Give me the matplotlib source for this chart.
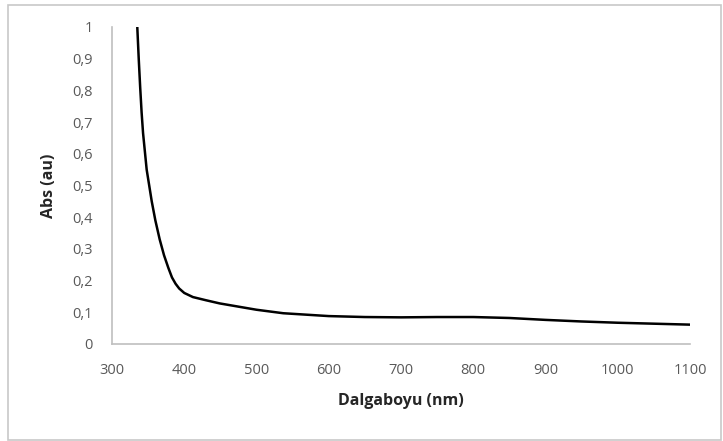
import matplotlib.pyplot as plt
from matplotlib.patches import Rectangle

# absorbance spectrum
wavelength = [335, 337, 339, 341, 343, 348, 355, 360, 366, 372, 378, 383, 388,
              393, 400, 412, 430, 449, 477, 500, 537, 600, 650, 700, 750, 800,
              850, 900, 950, 1000, 1050, 1100]
absorbance = [1.0, 0.90, 0.81, 0.73, 0.665, 0.55, 0.45, 0.39, 0.33, 0.28, 0.24,
              0.21, 0.19, 0.175, 0.161, 0.148, 0.138, 0.128, 0.117, 0.108,
              0.097, 0.088, 0.085, 0.084, 0.085, 0.085, 0.082, 0.076, 0.071,
              0.067, 0.064, 0.061]

x_ticks = [300, 400, 500, 600, 700, 800, 900, 1000, 1100]
y_ticks = [0, 0.1, 0.2, 0.3, 0.4, 0.5, 0.6, 0.7, 0.8, 0.9, 1.0]
y_labels = ["0", "0,1", "0,2", "0,3", "0,4", "0,5", "0,6", "0,7", "0,8", "0,9", "1"]

plt.rcParams['font.family'] = ['Open Sans', 'DejaVu Sans']

fig = plt.figure(figsize=(7.23, 4.41), dpi=100)
ax = fig.add_axes([0.1549, 0.22, 0.7995, 0.7188])

ax.plot(wavelength, absorbance, color='black', lw=1.8, solid_joinstyle='round',
        solid_capstyle='butt')

ax.set_xlim(300, 1100)
ax.set_ylim(0, 1)
ax.set_xticks(x_ticks)
ax.set_yticks(y_ticks)
ax.set_yticklabels(y_labels)
ax.tick_params(length=0, labelsize=10.5, labelcolor='#595959')
ax.tick_params(axis='x', pad=14)
ax.tick_params(axis='y', pad=14)

for side in ['top', 'right']:
    ax.spines[side].set_visible(False)
for side in ['left', 'bottom']:
    ax.spines[side].set_color('#bfbfbf')
    ax.spines[side].set_linewidth(1.2)

ax.set_xlabel('Dalgaboyu (nm)', fontsize=11.5, fontweight='bold', color='#262626', va='center')
ax.set_ylabel('Abs (au)', fontsize=11.5, fontweight='bold', color='#262626', va='center')
ax.xaxis.set_label_coords(0.5, -0.18)
ax.yaxis.set_label_coords(-0.109, 0.5)

# outer chart border
fig.patches.append(Rectangle((8 / 723, 1 / 441), 713 / 723, 435 / 441,
                             transform=fig.transFigure, fill=False,
                             edgecolor='#c8c8c8', lw=1.2))

fig.savefig('out.png', dpi=100)
